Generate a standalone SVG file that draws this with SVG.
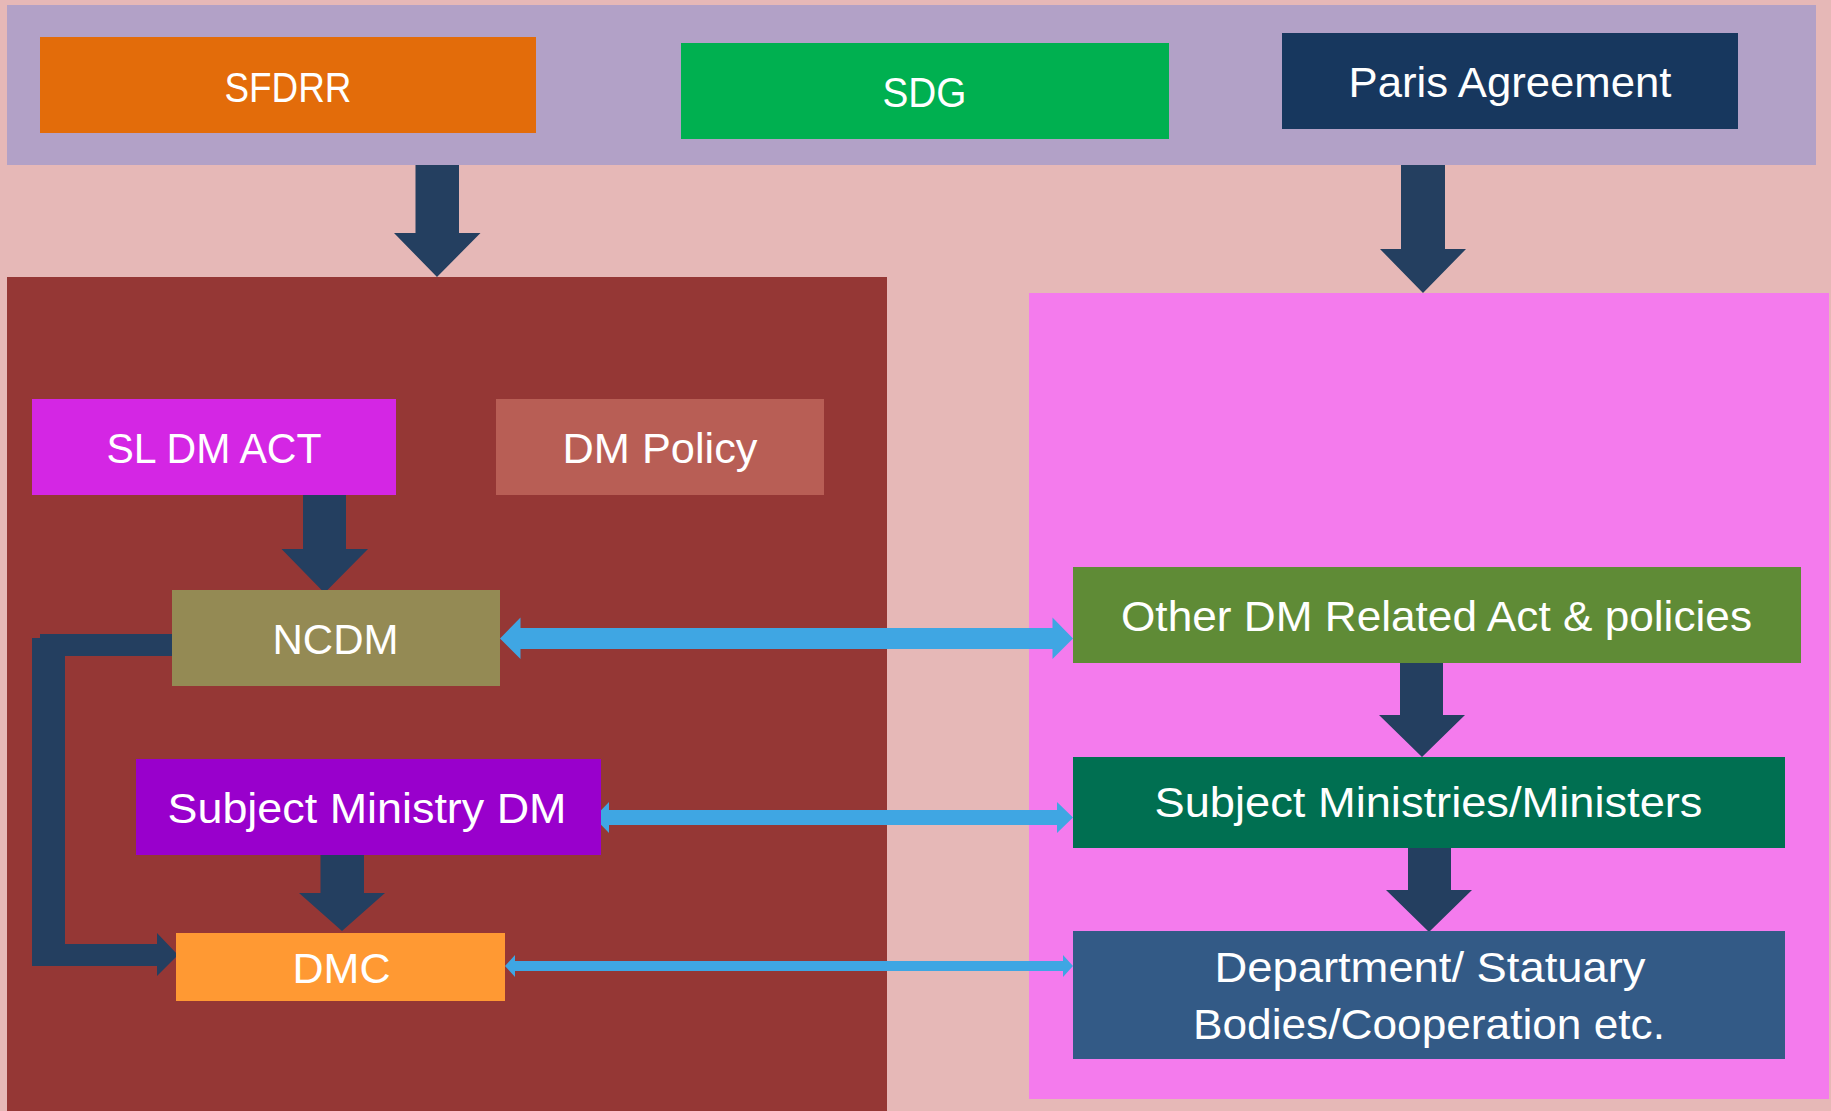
<svg xmlns="http://www.w3.org/2000/svg" width="1831" height="1111" viewBox="0 0 1831 1111">
<style>
.t{font-family:"Liberation Sans",Arial,sans-serif;font-size:42px;fill:#FFFFFF;text-anchor:middle}
.nav{fill:#243F60}
.blu{fill:#3FA6E3}
</style>
<rect x="0" y="0" width="1831" height="1111" fill="#E6B8B7"/>
<g id="panels">
<rect id="top-band" x="7" y="5" width="1809" height="160" fill="#B2A1C7"/>
<rect id="left-panel" x="7" y="277" width="880" height="834" fill="#953735"/>
<rect id="right-panel" x="1029" y="293" width="800" height="806" fill="#F47BED"/>
</g>
<g id="connectors">
<polygon class="nav" points="415.5,165 459,165 459,233 480.5,233 437,277 394,233 415.5,233"/>
<polygon class="nav" points="1401,165 1445,165 1445,249 1466,249 1423,293 1380,249 1401,249"/>
<polygon class="nav" points="303,495 346,495 346,549 368,549 324.5,593 281.5,549 303,549"/>
<polygon class="nav" points="1400,663 1443,663 1443,715 1465,715 1422,757 1379,715 1400,715"/>
<polygon class="nav" points="1408,848 1451,848 1451,890 1472,890 1429,932 1386,890 1408,890"/>
<polygon class="nav" points="320.5,855 364,855 364,893 385,893 342,931 299,893 320.5,893"/>
<polygon class="nav" points="40,634 177,634 177,656 65,656 65,944 157,944 157,933 178,955 157,976 157,966 32,966 32,638 40,638"/>
<polygon class="blu" points="500,638.5 520.5,617.5 520.5,628 1052.5,628 1052.5,617.5 1073,638.5 1052.5,659 1052.5,649 520.5,649 520.5,659"/>
<polygon class="blu" points="594,817.5 609,802 609,810 1057,810 1057,802 1073,817.5 1057,833 1057,825 609,825 609,833"/>
<polygon class="blu" points="505,966 515,955 515,961 1063,961 1063,955 1073,966 1063,977 1063,971 515,971 515,977"/>
</g>
<g id="node-sfdrr">
<rect x="40" y="37" width="496" height="96" fill="#E36C0A"/>
<text class="t" x="288" y="102" textLength="127" lengthAdjust="spacingAndGlyphs">SFDRR</text>
</g>
<g id="node-sdg">
<rect x="681" y="43" width="488" height="96" fill="#00B050"/>
<text class="t" x="924.5" y="107" textLength="84" lengthAdjust="spacingAndGlyphs">SDG</text>
</g>
<g id="node-paris">
<rect x="1282" y="33" width="456" height="96" fill="#17375E"/>
<text class="t" x="1510" y="97" textLength="323" lengthAdjust="spacingAndGlyphs">Paris Agreement</text>
</g>
<g id="node-sldmact">
<rect x="32" y="399" width="364" height="96" fill="#D426E4"/>
<text class="t" x="214" y="463" textLength="215" lengthAdjust="spacingAndGlyphs">SL DM ACT</text>
</g>
<g id="node-dmpolicy">
<rect x="496" y="399" width="328" height="96" fill="#B85E55"/>
<text class="t" x="660" y="463" textLength="195" lengthAdjust="spacingAndGlyphs">DM Policy</text>
</g>
<g id="node-ncdm">
<rect x="172" y="590" width="328" height="96" fill="#948A54"/>
<text class="t" x="335.5" y="654" textLength="126" lengthAdjust="spacingAndGlyphs">NCDM</text>
</g>
<g id="node-smdm">
<rect x="136" y="759" width="465" height="96" fill="#9900CC"/>
<text class="t" x="367" y="823" textLength="399" lengthAdjust="spacingAndGlyphs">Subject Ministry DM</text>
</g>
<g id="node-dmc">
<rect x="176" y="933" width="329" height="68" fill="#FF9933"/>
<text class="t" x="341.5" y="983" textLength="98" lengthAdjust="spacingAndGlyphs">DMC</text>
</g>
<g id="node-otherdm">
<rect x="1073" y="567" width="728" height="96" fill="#5F8B36"/>
<text class="t" x="1436.5" y="631" textLength="631" lengthAdjust="spacingAndGlyphs">Other DM Related Act &amp; policies</text>
</g>
<g id="node-subjectministries">
<rect x="1073" y="757" width="712" height="91" fill="#006F51"/>
<text class="t" x="1428.5" y="817" textLength="548" lengthAdjust="spacingAndGlyphs">Subject Ministries/Ministers</text>
</g>
<g id="node-department">
<rect x="1073" y="931" width="712" height="128" fill="#335A86"/>
<text class="t" x="1430" y="982" textLength="431" lengthAdjust="spacingAndGlyphs">Department/ Statuary</text>
<text class="t" x="1429" y="1039" textLength="472" lengthAdjust="spacingAndGlyphs">Bodies/Cooperation etc.</text>
</g>
</svg>
